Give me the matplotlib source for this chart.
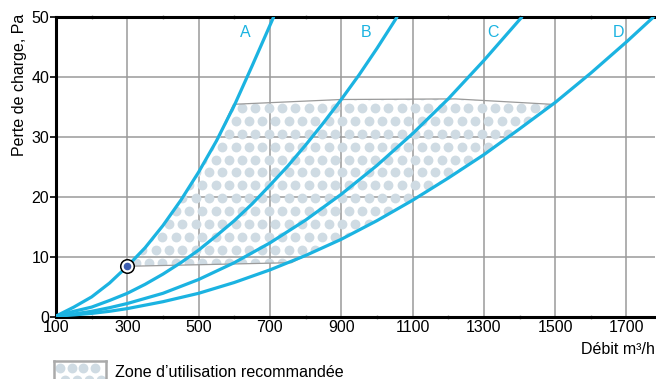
import numpy as np
import matplotlib
matplotlib.use("Agg")
import matplotlib.pyplot as plt
from matplotlib.patches import Polygon

plt.rcParams['font.family'] = ['Liberation Sans', 'DejaVu Sans']

# curves (flow m3/h, pressure loss Pa)
a_x = [100, 150, 200, 250, 300, 350, 400, 450, 500, 550, 600, 650, 710]
a_y = [0.2, 1.7, 3.4, 5.7, 8.5, 11.6, 15.3, 19.5, 24.2, 29.4, 35.3, 41.9, 50.0]

b_x = [100, 150, 200, 250, 300, 350, 400, 450, 500, 550, 600, 650, 700, 750, 800, 850, 900, 950, 1000, 1056]
b_y = [0.2, 1.0, 1.7, 2.8, 4.0, 5.5, 7.2, 9.1, 11.2, 13.6, 16.1, 18.9, 22.0, 25.2, 28.7, 32.4, 36.3, 40.4, 44.8, 50.0]

c_x = [100, 150, 200, 250, 300, 400, 500, 600, 700, 800, 900, 1000, 1100, 1200, 1300, 1406]
c_y = [0.2, 0.55, 1.0, 1.6, 2.3, 4.0, 6.3, 9.1, 12.4, 16.2, 20.5, 25.3, 30.6, 36.4, 42.8, 50.0]

d_x = [100, 150, 200, 250, 300, 400, 500, 600, 700, 800, 900, 1000, 1100, 1200, 1300, 1400, 1500, 1600, 1700, 1775]
d_y = [0.2, 0.4, 0.65, 1.0, 1.45, 2.6, 4.0, 5.8, 7.9, 10.3, 13.0, 16.1, 19.5, 23.2, 27.1, 31.4, 35.8, 40.7, 45.9, 50.0]

curve_names = ["A", "B", "C", "D"]
label_x = [630, 969, 1325, 1678]
label_y = [47.5, 47.5, 47.5, 47.5]

# recommended zone outline
zone_x = [300, 350, 400, 450, 500, 550, 598, 900, 1220, 1490, 1400, 1300, 1200, 1100, 1000, 900, 800, 760]
zone_y = [8.5, 11.6, 15.3, 19.5, 24.2, 29.4, 35.5, 36.3, 36.4, 35.5, 31.4, 27.1, 23.2, 19.5, 16.1, 13.0, 10.3, 9.1]

point_x = [300]
point_y = [8.5]

xticks = [100, 300, 500, 700, 900, 1100, 1300, 1500, 1700]
yticks = [0, 10, 20, 30, 40, 50]

cyan = "#1bb3e1"
dotc = "#cfdbe3"
gridc = "#9a9a9a"

fig = plt.figure(figsize=(6.56, 3.79), dpi=100)
ax = fig.add_axes([56 / 656, 1 - 317.3 / 379, 599 / 656, 300 / 379])
ax.set_xlim(100, 1780)
ax.set_ylim(0, 50)

# dotted zone
poly = Polygon(list(zip(zone_x, zone_y)), closed=True, facecolor="none",
               edgecolor=gridc, lw=0.9, zorder=2)
ax.add_patch(poly)
gx, gy = [], []
row = 0
for yy in np.arange(0.5, 50, 2.15):
    off = 0 if row % 2 == 0 else 18.6
    for xx in np.arange(100 + off, 1800, 37.3):
        gx.append(xx)
        gy.append(yy)
    row += 1
dots = ax.scatter(gx, gy, s=50, color=dotc, linewidths=0, zorder=1)
dots.set_clip_path(poly)

ax.grid(True, color=gridc, lw=1.1)
ax.set_axisbelow(True)

for xs, ys in [(a_x, a_y), (b_x, b_y), (c_x, c_y), (d_x, d_y)]:
    ax.plot(xs, ys, color=cyan, lw=2.3, zorder=4, solid_capstyle="round")

for name, lx, ly in zip(curve_names, label_x, label_y):
    ax.text(lx, ly, name, color=cyan, fontsize=11.5, ha="center", va="center", zorder=5)

ax.scatter(point_x, point_y, s=95, facecolor="white", edgecolor="black", lw=1.1, zorder=6)
ax.scatter(point_x, point_y, s=20, color="#3d5db0", zorder=7)

ax.set_xticks(xticks)
ax.set_yticks(yticks)
ax.set_xticks(np.arange(200, 1780, 200), minor=True)
ax.tick_params(axis="x", which="major", length=0, labelsize=11.5, pad=2)
ax.tick_params(axis="x", which="minor", length=3, direction="inout", color=gridc,
               width=1, top=True)
ax.tick_params(axis="y", length=4, width=1.2, labelsize=11.5, pad=1)

for s in ["left", "top", "bottom"]:
    ax.spines[s].set_linewidth(2.2)
ax.spines["right"].set_visible(False)

fig.text(20 / 656, 1 - 14 / 379, "Perte de charge, Pa", rotation=90,
         ha="center", va="top", fontsize=11.5)
fig.text(655 / 656, 1 - 349 / 379, "Débit m³/h", ha="right", va="center", fontsize=11.5)

# legend swatch
lax = fig.add_axes([54 / 656, -0.02, 52 / 656, 26 / 379])
lax.set_xlim(0, 52)
lax.set_ylim(0, 26)
lax.set_xticks([])
lax.set_yticks([])
for s in lax.spines.values():
    s.set_color("#aaaaaa")
    s.set_linewidth(1.8)
lx_dots = [6, 18, 29, 41, 11, 23, 35, 47, 6, 18, 29, 41]
ly_dots = [19, 19, 19, 19, 7, 7, 7, 7, -5, -5, -5, -5]
lax.scatter(lx_dots, ly_dots, s=50, color=dotc, linewidths=0)
fig.text(115 / 656, 2 / 379, "Zone d’utilisation recommandée", ha="left", va="baseline",
         fontsize=11.6)

fig.savefig("out.png", dpi=100)
